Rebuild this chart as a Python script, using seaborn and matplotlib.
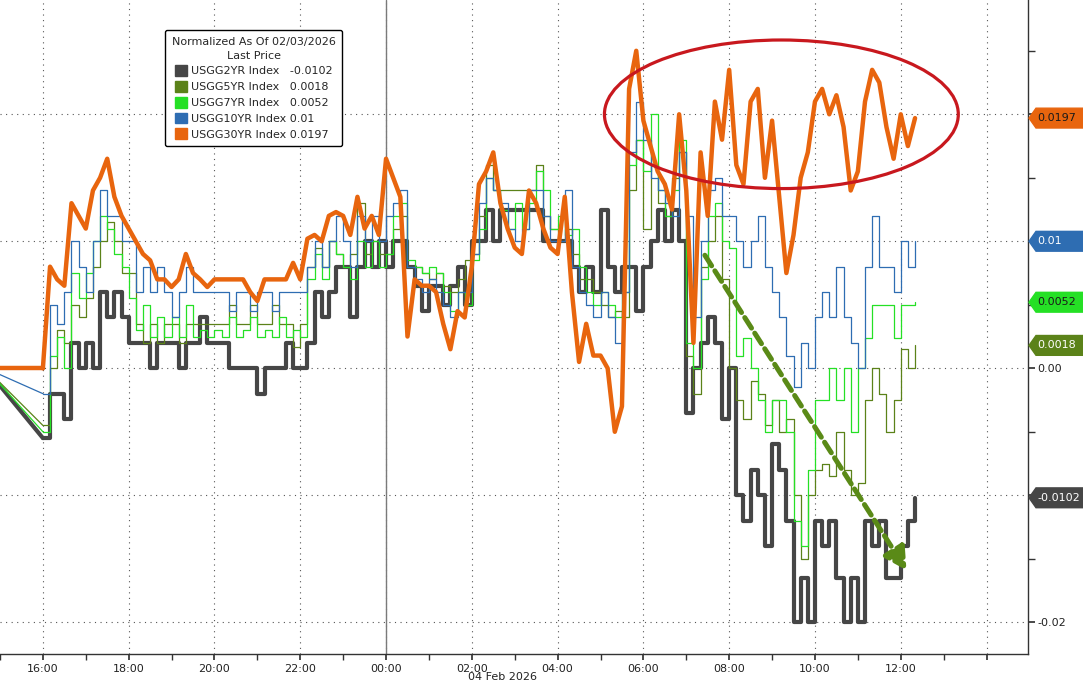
import pandas as pd
import matplotlib
matplotlib.use("Agg")
import matplotlib.pyplot as plt
import matplotlib.dates as mdates
import matplotlib.transforms as mtransforms
from matplotlib.patches import Ellipse, Polygon, Patch
from matplotlib.ticker import MultipleLocator, FuncFormatter
import seaborn as sns

sns.set_theme(style="white")
plt.rcParams["font.family"] = ["DejaVu Sans"]

# 10-minute bars, values in thousandths (x 0.001), normalized to 03 Feb close
LEAD_TIME = "2026-02-03 14:40"
BAR_START = "2026-02-03 16:00"
BAR_END = "2026-02-04 12:20"

usgg2yr = [
    -5.5, -2, -2, -4, 2, 0,
    2, 0, 6, 4, 6, 4,
    2, 2, 2, 0, 2, 2,
    2, 0, 2, 2, 4, 2,
    2, 2, 0, 0, 0, 0,
    -2, 0, 0, 0, 2, 0,
    0, 2, 6, 4, 6, 8,
    8, 4, 8, 10, 8, 10,
    8, 10, 10, 8, 6.5, 4.5,
    6.5, 6.5, 5, 6.5, 8, 5,
    10, 10, 12.5, 10, 12.5, 12.5,
    12.5, 12.5, 12.5, 12.5, 10, 10,
    10, 10, 8, 6, 8, 6,
    12.5, 8, 6, 8, 8, 4.5,
    8, 10, 12.5, 10, 12.5, 10,
    -3.5, 0, 2, 4, 2, -4,
    0, -10, -12, -8, -10, -14,
    -6, -8, -12, -20, -16.5, -20,
    -12, -14, -12, -16.5, -20, -16.5,
    -20, -12, -14, -12, -16.5, -16.5,
    -14, -12, -10.2,
]
usgg5yr = [
    -4.5, 0, 3, 2, 5, 4,
    5.5, 8, 10, 11.5, 10, 7.5,
    7.5, 3.5, 2, 3.5, 2, 3.5,
    3.5, 2, 3.5, 3.5, 3.5, 3.5,
    3.5, 3.5, 5, 3.5, 3.5, 5,
    3.5, 3.5, 5, 3.5, 3.5, 1.7,
    3.5, 8, 9.5, 8, 10, 9,
    8, 9, 13, 9, 10, 9,
    9, 11, 12, 8, 8, 7.5,
    7, 7.5, 6.5, 6, 7, 8.5,
    9, 12, 16, 14, 14, 14,
    14, 14, 14, 16, 12, 11,
    10, 11, 9, 7, 7, 6,
    5, 4, 4.5, 4, 14, 18,
    11, 16, 13, 12, 15, 17,
    1, -2, 8, 10, 12, 7,
    0, -2.5, -4, -1, -2, -4.5,
    -2.5, -5, -4, -10, -15, -10,
    -8, -7.5, -8.5, -5, -8, -10,
    -9, -2.5, 0, -2, -5, -2.5,
    1.5, 0, 1.8,
]
usgg7yr = [
    -5, 1, 2.5, 0, 7.5, 5.5,
    7.5, 10, 12, 11, 9, 8,
    5.5, 3, 5, 2.5, 4, 2.5,
    4, 2.5, 5, 2.5, 3, 2.5,
    3, 2.5, 4, 2.5, 3, 4,
    2.5, 3, 2.5, 4, 2.5, 3,
    2.5, 7, 9, 7, 10, 9,
    8, 7, 10, 8, 10, 8,
    9, 12, 13, 8.5, 8, 7.5,
    8, 7.5, 6, 4.5, 6, 5,
    8.5, 11, 15, 14, 12.5, 11,
    13, 11, 13, 15.5, 14, 11,
    12, 10.5, 11, 8, 6, 5,
    6, 5, 4, 6, 16, 18,
    15.5, 20, 14, 12, 14, 18,
    2, 0, 7, 12, 13, 10,
    9.5, 1, 2.4, 0, -2.5, -5,
    -2.5, -2.5, -5, -12, -14, -8,
    -2.5, -2.5, 0, -2.5, 0, -5,
    0, 2.4, 5, 5, 5, 2.4,
    5, 5, 5.2,
]
usgg10yr = [
    -2, 5, 3.5, 6, 10, 8,
    6, 10, 14, 12, 12, 10,
    10, 6, 8, 6, 8, 6,
    4, 6, 8, 6, 6, 6,
    6, 6, 4.5, 6, 6, 4.5,
    6, 6, 4.5, 6, 6, 6,
    6, 8, 10, 8, 10, 12,
    10, 8, 12, 10, 12, 10,
    12, 13, 14, 8, 7, 6,
    7, 6, 5, 4, 6, 6,
    9, 13, 15, 14, 13, 11,
    10, 11, 14, 14, 12, 10,
    10, 14, 8, 6, 5, 4,
    6, 4, 2, 6, 17, 21,
    18, 15, 14, 13, 12, 17,
    12, 4, 10, 14, 15, 12,
    12, 10, 8, 10, 12, 8,
    6, 4, 1, -1.5, 2, 0,
    4, 6, 4, 8, 4, 2,
    0, 8, 12, 8, 8, 6,
    10, 8, 10,
]
usgg30yr = [
    0, 8, 7, 6.5, 13, 12,
    11, 14, 15, 16.5, 13.5, 12,
    11, 10, 9, 8.5, 7, 7,
    6.4, 7, 9, 7.5, 7, 6.4,
    7, 7, 7, 7, 7, 6,
    5.3, 7, 7, 7, 7, 8.3,
    7, 10.2, 10.5, 10, 12, 12.3,
    12, 10.5, 13.5, 11, 12, 10.5,
    16.5, 15, 13.5, 2.5, 7, 6.5,
    6.5, 6, 3.5, 1.5, 4.5, 4,
    8, 14.5, 15.5, 17, 13, 11,
    9.5, 9, 14, 13, 11, 9.5,
    9, 13.5, 6, 0.5, 3.5, 1,
    1, 0, -5, -3, 22, 25,
    19.5, 17.5, 15.5, 14.5, 12.5, 20,
    14, 2, 17, 12, 21, 18,
    23.5, 16, 14.5, 21, 22, 15,
    19.5, 13.5, 7.5, 10.5, 15, 17,
    21, 22, 20, 21.5, 19, 14,
    15.5, 21, 23.5, 22.5, 19, 16.5,
    20, 17.5, 19.7,
]

series_names = ["USGG2YR Index", "USGG5YR Index", "USGG7YR Index", "USGG10YR Index", "USGG30YR Index"]
series_values = [usgg2yr, usgg5yr, usgg7yr, usgg10yr, usgg30yr]
last_labels = ["-0.0102", "0.0018", "0.0052", "0.01", "0.0197"]
legend_labels = ["USGG2YR Index   -0.0102", "USGG5YR Index   0.0018", "USGG7YR Index   0.0052",
                 "USGG10YR Index 0.01", "USGG30YR Index 0.0197"]
line_colors = ["#464646", "#5b8219", "#25e025", "#2e6db2", "#e8650e"]
line_widths = [3.0, 0.9, 0.9, 0.9, 3.2]
line_draw = ["steps-post", "steps-post", "steps-post", "steps-post", "default"]
tag_text_colors = ["white", "white", "#1a1a1a", "white", "#1a1a1a"]

# annotations drawn on the chart
ELLIPSE_CENTER = ("2026-02-04 09:13", 0.0200)
ELLIPSE_SIZE = (8.25, 0.0117)          # hours, value
ARROW_FROM = ("2026-02-04 07:26", 0.0089)
ARROW_TO = ("2026-02-04 12:08", -0.0159)

bar_times = pd.date_range(BAR_START, BAR_END, freq="10min")

fig = plt.figure(figsize=(10.83, 6.86), dpi=100)
ax = fig.add_axes([0, 32 / 686, 1028 / 1083, 654 / 686])

for vals, color, lw, ds in zip(series_values, line_colors, line_widths, line_draw):
    y = pd.Series(vals, index=bar_times) / 1000.0
    # gap before the first bar: straight line from the prior close
    lead = pd.Series([0.0, y.iloc[0]], index=[pd.Timestamp(LEAD_TIME), bar_times[0]])
    sns.lineplot(x=lead.index, y=lead.values, color=color, lw=lw, ax=ax, estimator=None, sort=False)
    sns.lineplot(x=y.index, y=y.values, color=color, lw=lw, ax=ax, estimator=None, sort=False,
                 drawstyle=ds)

ax.set_xlim(pd.Timestamp("2026-02-03 15:00"), pd.Timestamp("2026-02-04 14:58"))
ax.set_ylim(-0.0225, 0.029)

last_label_time = mdates.date2num(pd.Timestamp("2026-02-04 12:00"))
ax.xaxis.set_major_locator(mdates.HourLocator(byhour=range(0, 24, 2)))
ax.xaxis.set_major_formatter(FuncFormatter(
    lambda x, pos: mdates.num2date(x).strftime("%H:%M") if x <= last_label_time + 1e-6 else ""))
ax.xaxis.set_minor_locator(mdates.HourLocator())
ax.yaxis.tick_right()
ax.set_yticks([-0.02, -0.01, 0.0, 0.01, 0.02])
ax.set_yticklabels(["-0.02", "", "0.00", "", ""])
ax.yaxis.set_minor_locator(MultipleLocator(0.005))
ax.tick_params(axis="x", which="both", direction="out", length=4, color="#333333",
               labelsize=8, labelcolor="#222222", pad=3, bottom=True)
ax.tick_params(axis="y", which="both", direction="out", length=5, color="#333333",
               labelsize=8, labelcolor="#222222", pad=2, right=True, left=False)
ax.grid(True, which="major", linestyle=(0, (1, 4)), color="#555555", lw=0.8)
ax.set_xlabel("")
ax.set_ylabel("")
for side in ["top", "left"]:
    ax.spines[side].set_visible(False)
for side in ["right", "bottom"]:
    ax.spines[side].set_color("#333333")
    ax.spines[side].set_linewidth(1.0)

# day separator
ax.axvline(pd.Timestamp("2026-02-04 00:00"), color="#7a7a7a", lw=1.0, zorder=1)

fig.text(503 / 1083, 1 - 677 / 686, "04 Feb 2026", ha="center", va="center", fontsize=8, color="#222222")

# last-value tags on the right axis
tag_tr = mtransforms.blended_transform_factory(ax.transAxes, ax.transData)
half_h = 0.00078
x_tip, x_body, x_end = 1.0 + 1 / 1028, 1.0 + 8 / 1028, 1.06
for vals, label, color, tcolor in zip(series_values, last_labels, line_colors, tag_text_colors):
    v = vals[-1] / 1000.0
    poly = Polygon([(x_tip, v), (x_body, v + half_h), (x_end, v + half_h), (x_end, v - half_h), (x_body, v - half_h)],
                   closed=True, facecolor=color, edgecolor=color, transform=tag_tr, clip_on=False, zorder=5)
    ax.add_patch(poly)
    ax.text(1.0 + 9 / 1028, v, label, transform=tag_tr, ha="left", va="center", fontsize=8,
            color=tcolor, clip_on=False, zorder=6)

# red ellipse round the 30yr action
ell = Ellipse((mdates.date2num(pd.Timestamp(ELLIPSE_CENTER[0])), ELLIPSE_CENTER[1]),
              width=ELLIPSE_SIZE[0] / 24.0, height=ELLIPSE_SIZE[1],
              fill=False, edgecolor="#c8181e", lw=2.3, zorder=7)
ax.add_patch(ell)

# dashed green arrow
ax.annotate("", xy=(pd.Timestamp(ARROW_TO[0]), ARROW_TO[1]),
            xytext=(pd.Timestamp(ARROW_FROM[0]), ARROW_FROM[1]),
            arrowprops=dict(arrowstyle="-|>,head_length=1.1,head_width=0.6", color="#5a8a17",
                            lw=3.6, linestyle=(0, (2.5, 1.2)), shrinkA=0, shrinkB=0), zorder=8)

handles = [Patch(facecolor=c, edgecolor=c) for c in line_colors]
leg = ax.legend(handles, legend_labels, title="Normalized As Of 02/03/2026\nLast Price",
                loc="upper left", bbox_to_anchor=(165 / 1028, 1 - 30 / 654), borderaxespad=0,
                fontsize=8, title_fontsize=8, handlelength=1.1, handleheight=1.1, handletextpad=0.3,
                labelspacing=0.42, borderpad=0.6, frameon=True, fancybox=True, framealpha=1,
                alignment="center")
leg.get_title().set_multialignment("center")
leg.get_title().set_linespacing(1.5)
leg.get_frame().set_edgecolor("black")
leg.get_frame().set_linewidth(1.0)
leg.set_zorder(10)

fig.savefig("out.png", dpi=100)
